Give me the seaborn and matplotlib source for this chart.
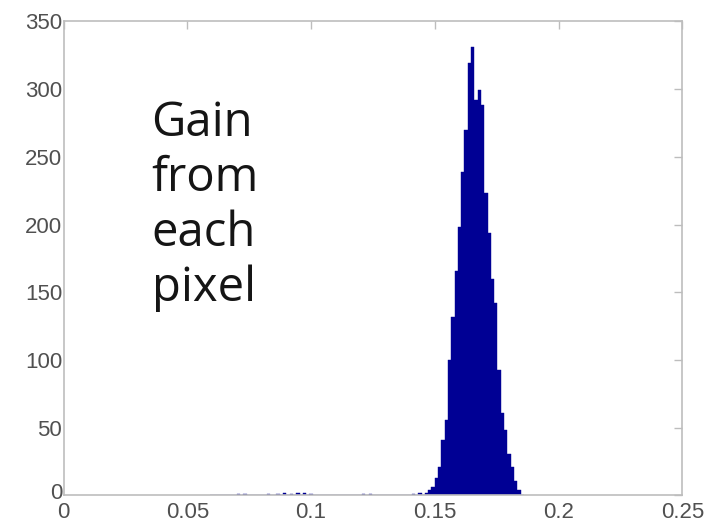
import numpy as np
import pandas as pd
import matplotlib
matplotlib.use("Agg")
import matplotlib.pyplot as plt
import matplotlib.transforms as mtransforms
import seaborn as sns

# histogram of per-pixel gain
bin_width = 0.001333
main_start = 0.1460
main_counts = [2, 4, 6, 13, 21, 41, 56, 100, 132, 166, 198, 239, 270, 319, 331,
               292, 299, 288, 223, 194, 160, 142, 93, 61, 48, 31, 21, 11, 4]

# a few stray pixels far below the main peak
stray_gain = [0.0705, 0.0730, 0.0826, 0.0862, 0.0890, 0.0918, 0.0945, 0.0972,
              0.1000, 0.1218, 0.1245, 0.1420, 0.1436]
stray_counts = [1, 1, 1, 1, 2, 1, 2, 2, 1, 1, 1, 1, 2]

x_ticks = [0, 0.05, 0.1, 0.15, 0.2, 0.25]
x_labels = ["0", "0.05", "0.1", "0.15", "0.2", "0.25"]
y_ticks = [0, 50, 100, 150, 200, 250, 300, 350]

main_gain = main_start + (np.arange(len(main_counts)) + 0.5) * bin_width
df = pd.DataFrame({
    "gain": np.concatenate([stray_gain, main_gain]),
    "count": np.concatenate([stray_counts, main_counts]),
})

sns.set_style("white")
plt.rcParams["font.family"] = ["Liberation Sans", "DejaVu Sans"]

fig = plt.figure(figsize=(7.08, 5.25), dpi=100)
ax = fig.add_axes([0.0897, 0.0562, 0.874, 0.903])

n_before = int(np.ceil((main_start - 0.06) / bin_width))
lo = main_start - n_before * bin_width
hi = main_start + (len(main_counts) + 1) * bin_width
navy = "#000094"
sns.histplot(data=df, x="gain", weights="count", binwidth=bin_width,
             binrange=(lo, hi), color=navy, edgecolor=navy,
             linewidth=0.3, alpha=1.0, ax=ax)

ax.set_xlim(0, 0.25)
ax.set_ylim(0, 350)
ax.set_xticks(x_ticks)
ax.set_xticklabels(x_labels)
ax.set_yticks(y_ticks)
ax.set_xlabel("")
ax.set_ylabel("")

gray = "#bdbdbd"
for side in ["left", "right", "top", "bottom"]:
    ax.spines[side].set_visible(True)
    ax.spines[side].set_color(gray)
    ax.spines[side].set_linewidth(1.2)
ax.tick_params(direction="in", length=6, width=1, color=gray,
               top=True, right=True, labelsize=16, labelcolor="#505050")
ax.tick_params(axis="x", pad=5)
ax.tick_params(axis="y", pad=1)

# lift the y "0" a little so it sits above the x "0", as in the original
zero_label = ax.get_yticklabels()[0]
zero_label.set_transform(zero_label.get_transform() +
                         mtransforms.ScaledTranslation(0, 4 / 100, fig.dpi_scale_trans))

ax.text(0.0356, 292, "Gain\nfrom\neach\npixel", va="top", ha="left",
        fontsize=34, family=["Open Sans", "DejaVu Sans"], color="#151515",
        linespacing=1.2)

fig.savefig("out.png", dpi=100)
